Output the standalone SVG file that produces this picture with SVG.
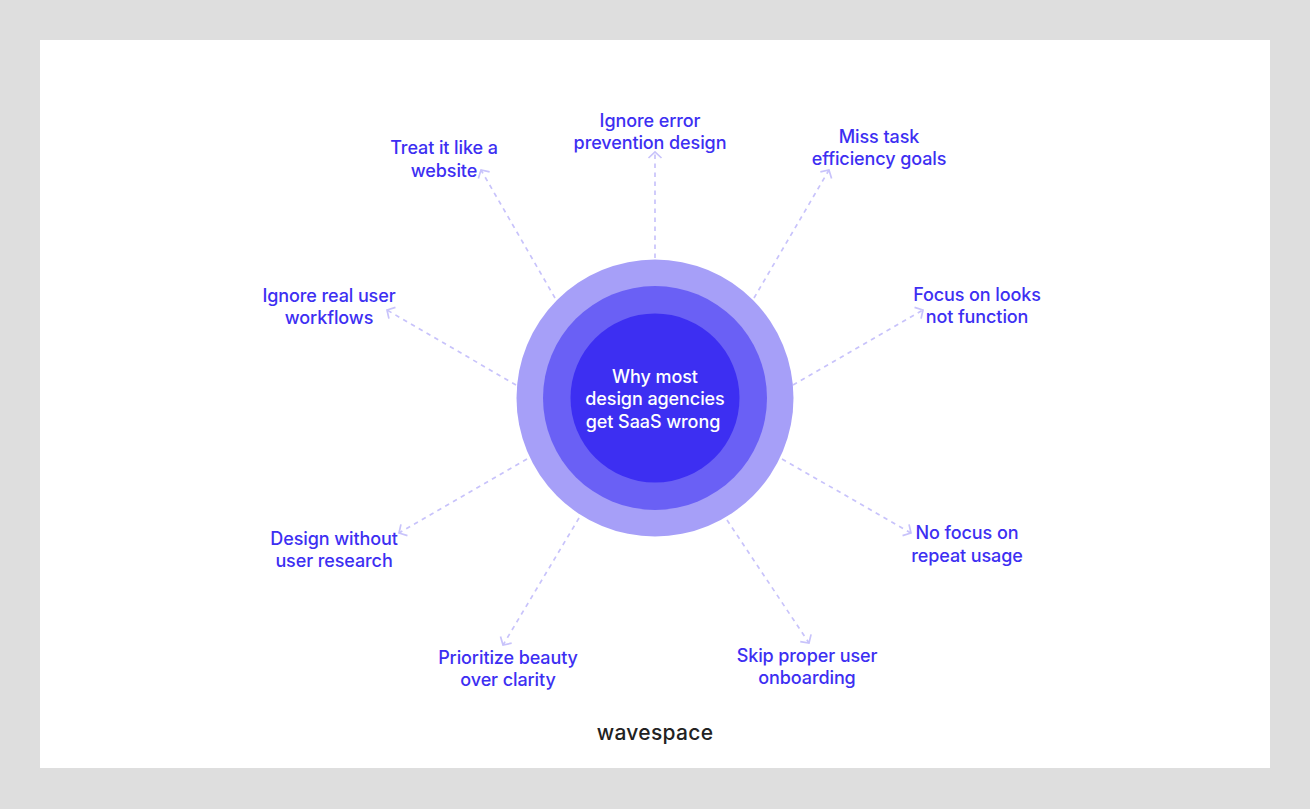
<svg xmlns="http://www.w3.org/2000/svg" width="1310" height="809" viewBox="0 0 1310 809">
<style>
.bg{fill:#dedede}.card{fill:#fff}
.c1{fill:#a69ff8}.c2{fill:#6a60f5}.c3{fill:#3d2ff2}
text{font-family:"Inter","Liberation Sans",sans-serif;font-weight:500;text-anchor:middle}
.lb{fill:#3d2ff2;font-size:18px;letter-spacing:-.1px}
.ct{fill:#fff;font-size:18px;letter-spacing:-.08px}
.logo{fill:#222;font-size:21px;letter-spacing:.3px}
.cn{fill:none;stroke:#c8c3fb;stroke-width:1.7;stroke-dasharray:4.5 4.5;marker-end:url(#ah)}
</style>
<defs>
<marker id="ah" markerUnits="userSpaceOnUse" markerWidth="18" markerHeight="18" refX="9" refY="9" orient="auto">
<path d="M3 2.500L9 9L3 15.500" fill="none" stroke="#c8c3fb" stroke-width="1.7"/>
</marker>
</defs>
<rect class="bg" width="1310" height="809"/>
<rect class="card" x="40" y="40" width="1230" height="728"/>
<g id="connectors">
<path class="cn" d="M655 258L655 152"/>
<path class="cn" d="M555 298L481 170"/>
<path class="cn" d="M754 298L829 170"/>
<path class="cn" d="M793 385L923 310"/>
<path class="cn" d="M782 459L911 533"/>
<path class="cn" d="M727 520L809 643"/>
<path class="cn" d="M579 518L503 645"/>
<path class="cn" d="M527 459L399 533"/>
<path class="cn" d="M516 385L387 310"/>
</g>
<g id="center">
<circle class="c1" cx="655" cy="398" r="138.500"/>
<circle class="c2" cx="655" cy="398" r="112"/>
<circle class="c3" cx="655" cy="398" r="84.500"/>
<text class="ct" x="655" y="382.500">Why most</text>
<text class="ct" x="655" y="405">design agencies</text>
<text class="ct" x="653" y="427.500">get SaaS wrong</text>
</g>
<g id="n-error"><text class="lb" x="650" y="126.500">Ignore error</text><text class="lb" x="650" y="148.500">prevention design</text></g>
<g id="n-website"><text class="lb" x="444" y="153.500">Treat it like a</text><text class="lb" x="444" y="176.500">website</text></g>
<g id="n-task"><text class="lb" x="879" y="142.500">Miss task</text><text class="lb" x="879" y="164.500">efficiency goals</text></g>
<g id="n-looks"><text class="lb" x="977" y="300.500">Focus on looks</text><text class="lb" x="977" y="322.500">not function</text></g>
<g id="n-repeat"><text class="lb" x="967" y="539">No focus on</text><text class="lb" x="967" y="561.500">repeat usage</text></g>
<g id="n-onboarding"><text class="lb" x="807" y="661.500">Skip proper user</text><text class="lb" x="807" y="683.500">onboarding</text></g>
<g id="n-beauty"><text class="lb" x="508" y="663.500">Prioritize beauty</text><text class="lb" x="508" y="685.500">over clarity</text></g>
<g id="n-research"><text class="lb" x="334" y="544.500">Design without</text><text class="lb" x="334" y="567">user research</text></g>
<g id="n-workflows"><text class="lb" x="329" y="301.500">Ignore real user</text><text class="lb" x="329" y="323.500">workflows</text></g>
<g id="logo"><text class="logo" x="655" y="740">wavespace</text></g>
</svg>
